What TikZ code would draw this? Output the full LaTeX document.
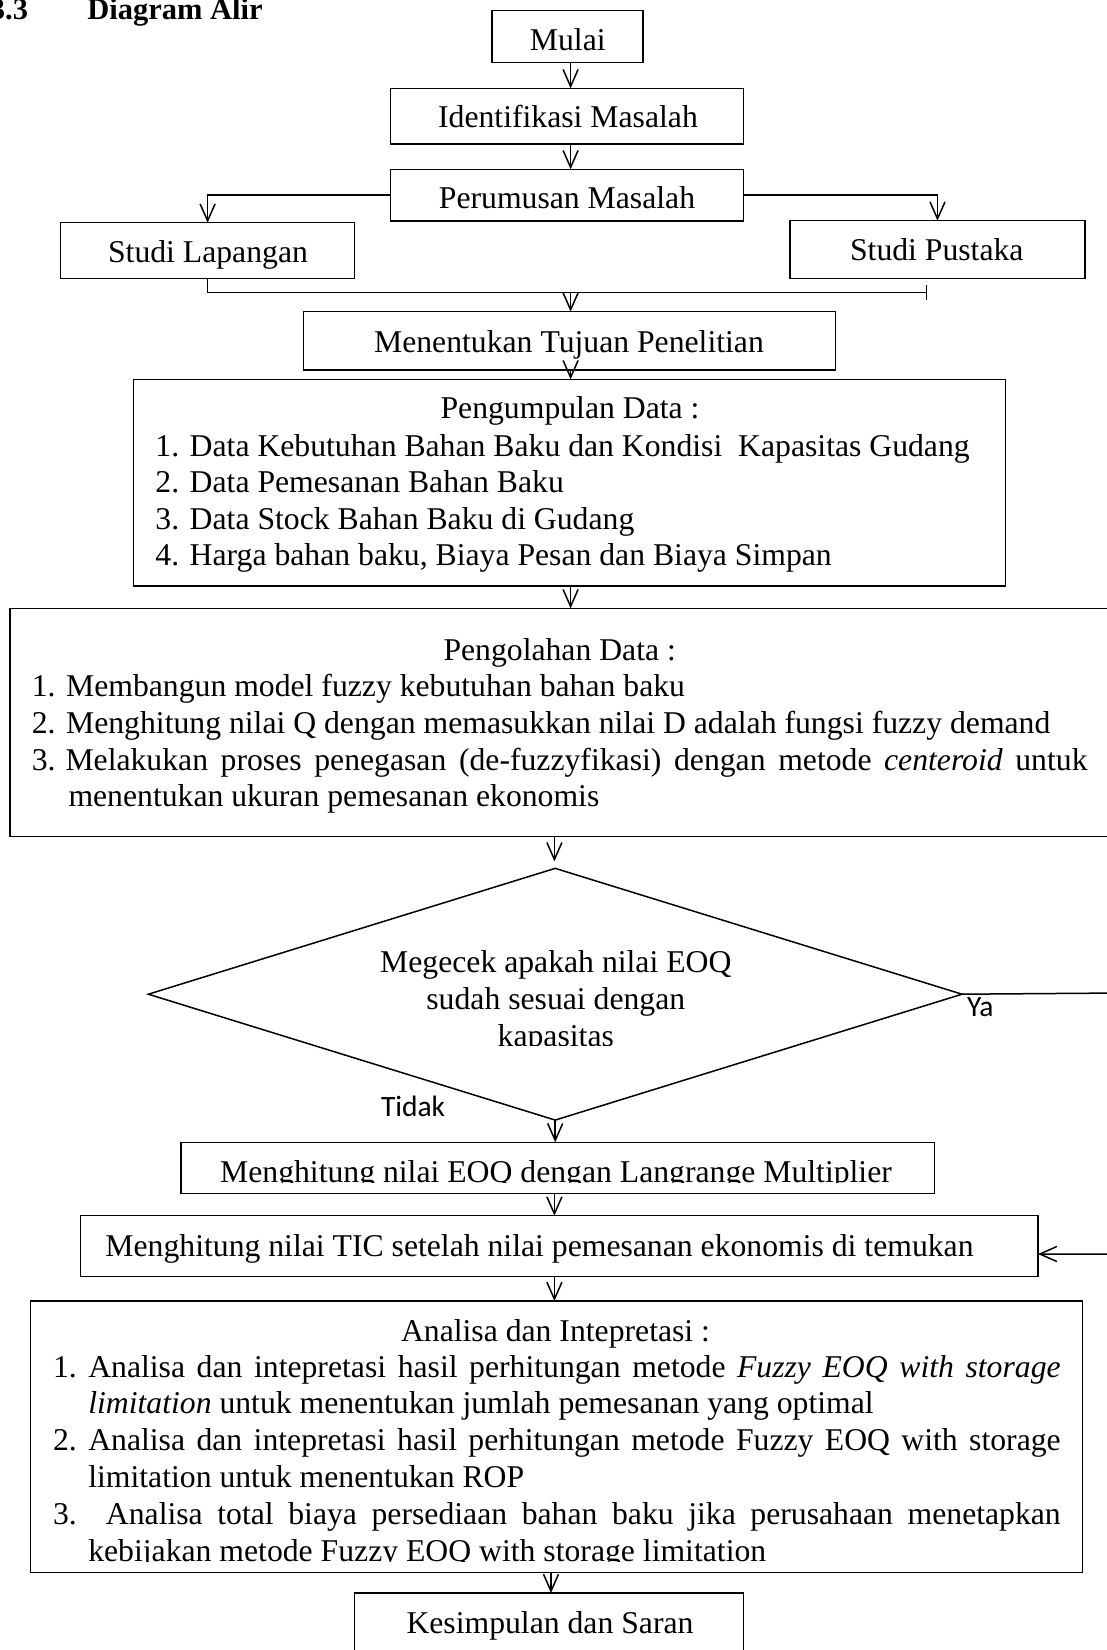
\documentclass[tikz,border=0pt]{standalone}
\usepackage{fontspec}
\setmainfont{Liberation Serif}[Ligatures=CommonOff]
\newfontfamily\calfont{Carlito}
\usetikzlibrary{arrows.meta,shapes.geometric}
\tikzset{
  box/.style={draw, line width=1.5pt, inner sep=0pt, outer sep=0pt},
  txt/.style={inner sep=0pt, outer sep=0pt, font=\fontsize{31.7pt}{36.6pt}\selectfont, anchor=base},
  txtl/.style={txt, anchor=base west},
  head/.style={inner sep=0pt, outer sep=0pt, font=\fontsize{30.5pt}{36pt}\selectfont\bfseries, anchor=base west},
  arr/.style={line width=1.5pt, -{Straight Barb[length=17pt,width=15pt]}},
  plain/.style={line width=1.5pt},
  lab/.style={inner sep=0pt, outer sep=0pt, font=\calfont\fontsize{29.5pt}{34pt}\selectfont, anchor=base west},
}
\begin{document}
\begin{tikzpicture}[x=1pt,y=-1pt]
\useasboundingbox (0,0) rectangle (1107,1650);
\begin{scope}
\clip (0,0) rectangle (1107,1650);
% heading
\node[head] (h1) at (-10,19) {3.3};
\node[head] (h2) at (87.3,19) {Diagram Alir};
% boxes
\node[box, minimum width=151pt, minimum height=51.6pt] (mulai) at (567.5,36.5) {};
\node[box, minimum width=353.1pt, minimum height=55.7pt] (ident) at (567.05,116.15) {};
\node[box, minimum width=353.1pt, minimum height=51.7pt] (perum) at (567.05,195.15) {};
\node[box, minimum width=293.8pt, minimum height=55.6pt] (slap) at (207.6,250.5) {};
\node[box, minimum width=295pt, minimum height=57.6pt] (spus) at (937.5,249.5) {};
\node[box, minimum width=531.8pt, minimum height=58.3pt] (tujuan) at (569.6,340.85) {};
\node[box, minimum width=872.1pt, minimum height=206.7pt] (kumpul) at (569.55,482.65) {};
\node[box, minimum width=1099.4pt, minimum height=228.2pt] (olah) at (559.7,722.4) {};
\node[box, diamond, minimum width=813.7pt, minimum height=251.7pt] (dia) at (555.2,994.2) {};
\node[box, minimum width=753.5pt, minimum height=51pt] (eoq) at (557.55,1167.8) {};
\node[box, minimum width=957.5pt, minimum height=61pt] (tic) at (559.25,1246.2) {};
\node[box, minimum width=1052.2pt, minimum height=271.3pt] (anal) at (556.5,1436.65) {};
\node[box, minimum width=389pt, minimum height=72pt] (kes) at (549,1629) {};
% texts
\node[txt] (tmulai) at (567.8,50) {Mulai};
\node[txt] (tident) at (568,127) {Identifikasi Masalah};
\node[txt] (tperum) at (567,208) {Perumusan Masalah};
\node[txt] (tslap) at (208,262) {Studi Lapangan};
\node[txt] (tspus) at (936.8,260) {Studi Pustaka};
\node[txt] (ttujuan) at (569,352) {Menentukan Tujuan Penelitian};
\node[txt] (tkumpul) at (570,418.3) {Pengumpulan Data :};
\node[txtl] (k1) at (155.4,456.5) {1. Data Kebutuhan Bahan Baku dan Kondisi \ Kapasitas Gudang};
\node[txtl] (k2) at (155.4,492.8) {2. Data Pemesanan Bahan Baku};
\node[txtl] (k3) at (155.4,529.2) {3. Data Stock Bahan Baku di Gudang};
\node[txtl] (k4) at (155.4,565.6) {4. Harga bahan baku, Biaya Pesan dan Biaya Simpan};
\node[txt] (tolah) at (559.7,660) {Pengolahan Data :};
\node[txtl] (o1) at (31.8,696.7) {1. Membangun model fuzzy kebutuhan bahan baku};
\node[txtl] (o2) at (31.8,733.3) {2. Menghitung nilai Q dengan memasukkan nilai D adalah fungsi fuzzy demand};
\node[txtl] (on3) at (31.8,770) {3.};
\node[txtl] (o3) at (65.5,770) {\makebox[1022.1pt][s]{Melakukan proses penegasan (de-fuzzyfikasi) dengan metode \textit{centeroid} untuk}};
\node[txtl] (o3b) at (68.5,806) {menentukan ukuran pemesanan ekonomis};
\begin{scope}
\clip (250,930) rectangle (860,1045);
\node[txt] (d1) at (555.8,972.5) {Megecek apakah nilai EOQ};
\node[txt] (d2) at (555.8,1009.5) {sudah sesuai dengan};
\node[txt] (d3) at (555.8,1046.5) {kapasitas};
\end{scope}
\node[lab] (ya) at (967,1016.7) {Ya};
\node[lab] (tidak) at (381,1116.7) {Tidak};
\begin{scope}
\clip (190,1145) rectangle (925,1182.3);
\node[txt] (teoq) at (556,1182) {Menghitung nilai EOQ dengan Langrange Multiplier};
\end{scope}
\node[txt] (ttic) at (539.5,1256.5) {Menghitung nilai TIC setelah nilai pemesanan ekonomis di temukan};
\node[txt] (tanal) at (555.5,1341) {Analisa dan Intepretasi :};
\node[txtl] (n1) at (53,1377) {1.};
\node[txtl] (a1) at (88.3,1377) {\makebox[972.4pt][s]{Analisa dan intepretasi hasil perhitungan metode \textit{Fuzzy EOQ with storage}}};
\node[txtl] (a1b) at (88.3,1413.5) {\textit{limitation} untuk menentukan jumlah pemesanan yang optimal};
\node[txtl] (n2) at (53,1450) {2.};
\node[txtl] (a2) at (88.3,1450) {\makebox[972.4pt][s]{Analisa dan intepretasi hasil perhitungan metode Fuzzy EOQ with storage}};
\node[txtl] (a2b) at (88.3,1487) {limitation untuk menentukan ROP};
\node[txtl] (a3) at (53,1524) {\makebox[1007.7pt][s]{3.\ \ Analisa total biaya persediaan bahan baku jika perusahaan menetapkan}};
\begin{scope}
\clip (60,1530) rectangle (1060,1561);
\node[txtl] (a3b) at (88.3,1561) {kebijakan metode Fuzzy EOQ with storage limitation};
\end{scope}
\node[txt] (tkes) at (550,1633) {Kesimpulan dan Saran};
% helper coordinates
\coordinate (c1) at (570.6,0);
\coordinate (c2) at (554.4,0);
\coordinate (c3) at (551,0);
\coordinate (jy) at (0,292.3);
\coordinate (jr) at (927,292.3);
\coordinate (ya1) at (1120,993);
\coordinate (ya2) at (1120,1254);
% connectors
\draw[arr] (mulai.south -| c1) -- (ident.north -| c1);
\draw[arr] (ident.south -| c1) -- (perum.north -| c1);
\draw[arr] (perum.west) -| (slap.north);
\draw[arr] (perum.east) -| (spus.north);
\draw[plain, -{Bar[width=15pt]}] (slap.south) -- (slap.south |- jy) -- (jr);
\draw[arr] (c1 |- jy) -- (tujuan.north -| c1);
\draw[arr] (tujuan.south -| c1) -- (kumpul.north -| c1);
\draw[arr] (kumpul.south -| c1) -- (olah.north -| c1);
\draw[arr] (olah.south -| c2) -- ([yshift=7pt]dia.north -| c2);
\draw[arr] (dia.south) -- (eoq.north -| dia.south);
\draw[arr] (eoq.south -| c2) -- (tic.north -| c2);
\draw[arr] (tic.south -| c2) -- (anal.north -| c2);
\draw[arr] (anal.south -| c3) -- (kes.north -| c3);
\draw[arr] (dia.east) -- (ya1) -- (ya2) -- (tic.east |- ya2);
\end{scope}
\end{tikzpicture}
\end{document}
